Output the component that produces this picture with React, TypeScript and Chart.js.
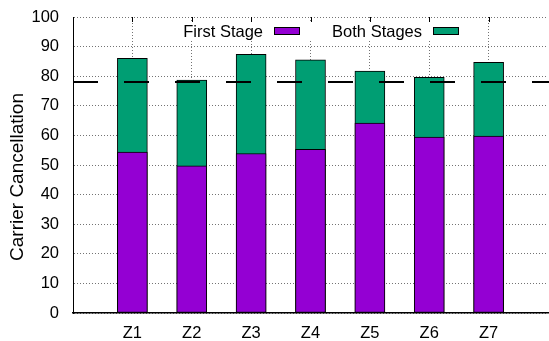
import { useEffect, useRef } from 'react';
import { Chart, registerables } from 'chart.js';

Chart.register(...registerables);

// Zone labels along the x axis
const categories = ['Z1', 'Z2', 'Z3', 'Z4', 'Z5', 'Z6', 'Z7'];
// Cancellation after the first stage only
const firstStage = [54.4, 49.7, 53.9, 55.3, 64.2, 59.4, 59.8];
// Cancellation after both stages (total bar height)
const bothStages = [86.0, 78.7, 87.4, 85.5, 81.7, 79.6, 84.7];
// Required cancellation level, drawn as a dashed reference line
const requiredLevel = 78;
const seriesNames = ['First Stage', 'Both Stages'];
const seriesColors = ['#9400d3', '#009e73'];
const yMin = 0;
const yMax = 100;
const yStep = 10;
const yTitle = 'Carrier Cancellation';

const FONT = '"Liberation Sans", Arial, Helvetica, sans-serif';
const GRID = 'rgba(0,0,0,0.55)';

const overlayPlugin = {
  id: 'gnuplotOverlay',
  afterDatasetsDraw(chart: any) {
    const { ctx, chartArea, scales } = chart;
    const xs = scales.x;
    const ys = scales.y;

    // dashed reference line across the full plot width
    const yLine = ys.getPixelForValue(requiredLevel);
    ctx.save();
    ctx.strokeStyle = '#000';
    ctx.lineWidth = 2;
    ctx.setLineDash([25, 26]);
    ctx.beginPath();
    ctx.moveTo(chartArea.left, yLine);
    ctx.lineTo(chart.width, yLine);
    ctx.stroke();
    ctx.restore();

    // opaque key area
    const keyTop = chartArea.top + 5;
    const keyMid = chartArea.top + 14;
    ctx.save();
    ctx.fillStyle = '#fff';
    ctx.fillRect(174, keyTop, 292, 17);
    ctx.restore();

    // mirrored x tics on the top edge
    ctx.save();
    ctx.strokeStyle = '#000';
    ctx.lineWidth = 1;
    categories.forEach((_, i) => {
      const px = Math.round(xs.getPixelForValue(i)) + 0.5;
      ctx.beginPath();
      ctx.moveTo(px, chartArea.top);
      ctx.lineTo(px, chartArea.top + 5);
      ctx.stroke();
    });
    ctx.restore();

    // key entries: text, then sample box
    const entries = [
      { textRight: 263, boxLeft: 274 },
      { textRight: 422, boxLeft: 433 },
    ];
    ctx.save();
    ctx.font = `16.5px ${FONT}`;
    ctx.fillStyle = '#000';
    ctx.textAlign = 'right';
    ctx.textBaseline = 'middle';
    entries.forEach((e, i) => {
      ctx.fillText(seriesNames[i], e.textRight, keyMid + 1);
      ctx.fillStyle = seriesColors[i];
      ctx.fillRect(e.boxLeft, keyMid - 3.5, 25, 7);
      ctx.strokeStyle = '#000';
      ctx.lineWidth = 1;
      ctx.strokeRect(e.boxLeft + 0.5, keyMid - 3.5, 25, 7);
      ctx.fillStyle = '#000';
    });
    ctx.restore();
  },
  afterDraw(chart: any) {
    const { ctx } = chart;
    ctx.save();
    ctx.translate(23, 177);
    ctx.rotate(-Math.PI / 2);
    ctx.font = `19px ${FONT}`;
    ctx.fillStyle = '#000';
    ctx.textAlign = 'center';
    ctx.textBaseline = 'alphabetic';
    ctx.fillText(yTitle, 0, 0);
    ctx.restore();
  },
};

export default function App() {
  const canvasRef = useRef<HTMLCanvasElement | null>(null);

  useEffect(() => {
    const canvas = canvasRef.current;
    if (!canvas) return;

    const barStyle = {
      borderColor: '#000',
      borderWidth: 1,
      borderSkipped: false,
      barThickness: 30,
    };

    const chart = new Chart(canvas, {
      type: 'bar',
      data: {
        datasets: [
          {
            label: seriesNames[0],
            data: firstStage.map((v, i) => ({ x: i, y: v })),
            backgroundColor: seriesColors[0],
            ...barStyle,
          },
          {
            label: seriesNames[1],
            data: bothStages.map((v, i) => ({ x: i, y: v })),
            backgroundColor: seriesColors[1],
            ...barStyle,
          },
        ],
      },
      options: {
        responsive: false,
        animation: false,
        events: [],
        layout: { padding: { top: 17, right: 1, left: 0, bottom: 0 } },
        plugins: {
          legend: { display: false },
          tooltip: { enabled: false },
        },
        scales: {
          x: {
            type: 'linear',
            min: -1,
            max: categories.length,
            stacked: true,
            offset: false,
            afterFit: (s: any) => {
              s.height = 28;
              s.paddingLeft = 0;
              s.paddingRight = 0;
            },
            ticks: {
              stepSize: 1,
              autoSkip: false,
              maxRotation: 0,
              padding: 11,
              color: '#000',
              font: { family: FONT, size: 16.5 },
              callback: (v: any) => categories[v as number] ?? '',
            },
            grid: {
              offset: false,
              drawTicks: false,
              lineWidth: 1,
              color: (c: any) => {
                const v = c.tick ? c.tick.value : -1;
                return v >= 0 && v < categories.length ? GRID : 'rgba(0,0,0,0)';
              },
            },
            border: { display: true, color: '#000', width: 1.5, dash: [1, 2] },
          },
          y: {
            type: 'linear',
            min: yMin,
            max: yMax,
            stacked: false,
            afterFit: (s: any) => {
              s.width = 73;
              s.paddingTop = 0;
              s.paddingBottom = 0;
            },
            ticks: {
              stepSize: yStep,
              padding: 14,
              color: '#000',
              font: { family: FONT, size: 16.5 },
            },
            grid: {
              drawTicks: false,
              lineWidth: 1,
              color: GRID,
            },
            border: { display: true, color: '#000', width: 1, dash: [1, 2] },
          },
        },
      },
      plugins: [overlayPlugin],
    } as any);

    return () => chart.destroy();
  }, []);

  return (
    <div style={{ position: 'absolute', left: 0, top: 0, width: 549, height: 341, background: '#fff' }}>
      <canvas ref={canvasRef} width={549} height={341} style={{ display: 'block' }} />
    </div>
  );
}
